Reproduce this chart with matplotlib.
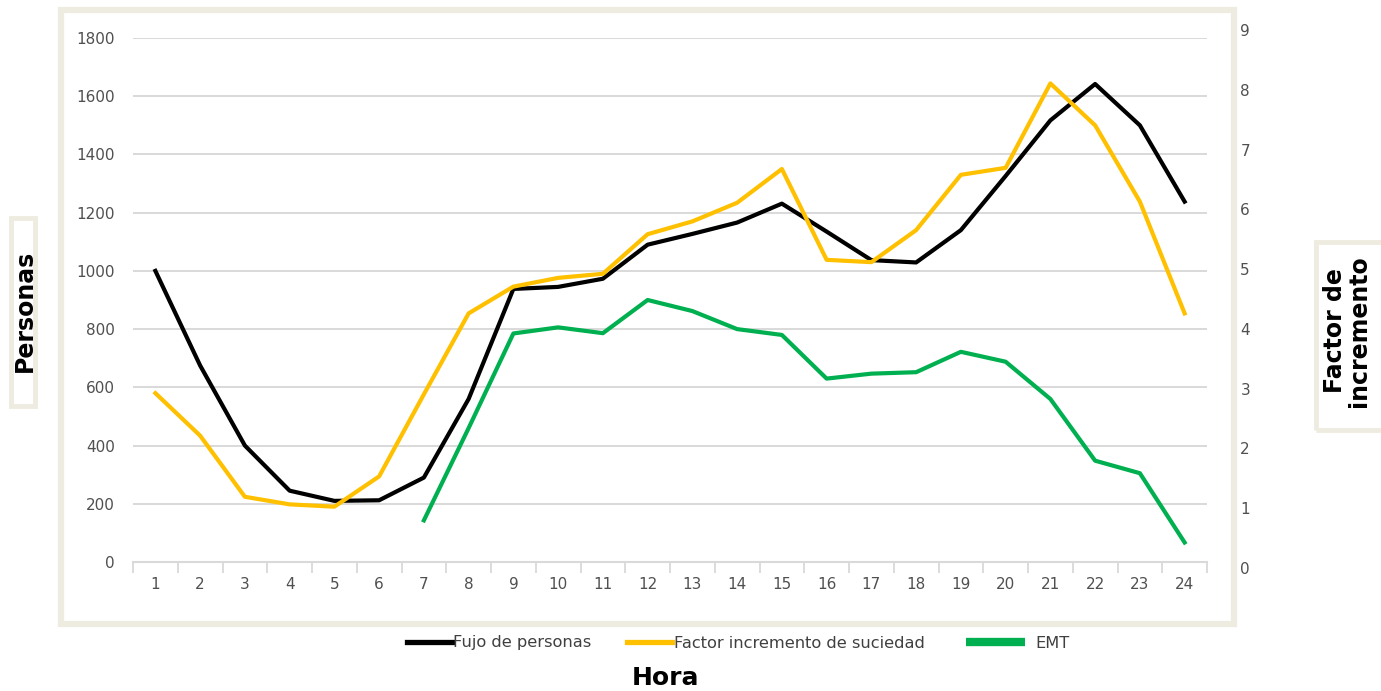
import matplotlib

matplotlib.use("Agg")
import numpy as np
import matplotlib.pyplot as plt
from matplotlib.lines import Line2D
from matplotlib.patches import Rectangle

hours = list(range(1, 25))
flujo_personas = [1000, 675, 400, 245, 210, 212, 290, 560, 938, 945, 973, 1090,
                  1127, 1166, 1231, 1135, 1037, 1029, 1140, 1326, 1517, 1642, 1500, 1238]
factor_suciedad = [2.90, 2.17, 1.12, 0.99, 0.95, 1.47, 2.88, 4.27, 4.73, 4.88, 4.95, 5.63,
                   5.85, 6.17, 6.75, 5.19, 5.15, 5.70, 6.65, 6.77, 8.22, 7.50, 6.19, 4.27]
emt = [np.nan, np.nan, np.nan, np.nan, np.nan, np.nan, 143, 460, 785, 806, 786, 900,
       862, 800, 780, 630, 647, 652, 722, 688, 560, 348, 305, 67]
left_ticks = [0, 200, 400, 600, 800, 1000, 1200, 1400, 1600, 1800]
right_ticks = [0, 1, 2, 3, 4, 5, 6, 7, 8, 9]
series_labels = ["Fujo de personas", "Factor incremento de suciedad", "EMT"]

W, H = 1381, 691
BEIGE = "#EEEBE0"
GRID = "#D9D9D9"
TICK_COLOR = "#505050"
BLACK, YELLOW, GREEN = "#000000", "#FFC000", "#00B050"

fig = plt.figure(figsize=(W / 100, H / 100), dpi=100)
fig.patch.set_facecolor("white")

left, right, bottom, top = 133 / W, 1207 / W, 1 - 562 / H, 1 - 38 / H
ax = fig.add_axes([left, bottom, right - left, top - bottom])

# right-hand tick labels sit a little off the gridlines in the original
ax_lab = fig.add_axes([left, 1 - 568 / H, right - left, 538 / H])
ax_lab.set_ylim(0, 9)
ax_lab.set_yticks(right_ticks)
ax_lab.yaxis.tick_right()
ax_lab.tick_params(axis="y", length=0, pad=24, labelsize=11, labelcolor=TICK_COLOR)
ax_lab.set_xticks([])
ax_lab.patch.set_visible(False)
for spine in ax_lab.spines.values():
    spine.set_visible(False)

ax.set_xlim(0.5, 24.5)
ax.set_ylim(0, 1800)
ax.set_yticks(left_ticks)
ax.set_xticks(hours)
ax.set_xticks(np.arange(0.5, 25, 1), minor=True)
ax.tick_params(axis="x", which="major", length=0, pad=11, labelsize=11, labelcolor=TICK_COLOR)
ax.tick_params(axis="x", which="minor", length=8, width=1.3, color=GRID)
ax.tick_params(axis="y", length=0, pad=13, labelsize=11, labelcolor=TICK_COLOR)
ax.grid(axis="y", color=GRID, lw=1.4)
ax.set_axisbelow(True)
for name, spine in ax.spines.items():
    spine.set_visible(name == "bottom")
ax.spines["bottom"].set_color(GRID)
ax.spines["bottom"].set_linewidth(1.5)

ax2 = ax.twinx()
ax2.set_ylim(0, 9)
ax2.set_yticks([])
for spine in ax2.spines.values():
    spine.set_visible(False)

ax.plot(hours, flujo_personas, color=BLACK, lw=3, solid_joinstyle="round", zorder=3)
ax.plot(hours, emt, color=GREEN, lw=3, solid_joinstyle="round", zorder=3)
ax2.plot(hours, factor_suciedad, color=YELLOW, lw=3, solid_joinstyle="round", zorder=3)

legend_y = 1 - 643 / H
legend_kw = dict(loc="center left", frameon=False, borderpad=0, borderaxespad=0,
                 fontsize=11.7, labelcolor="#404040")
lines_legend = fig.legend(
    [Line2D([], [], color=BLACK, lw=3.8), Line2D([], [], color=YELLOW, lw=3.8)],
    series_labels[:2], bbox_to_anchor=(407 / W, legend_y), ncol=2,
    handlelength=2.75, handletextpad=0.1, columnspacing=2.2, **legend_kw)
fig.legend([Line2D([], [], color=GREEN, lw=6, solid_capstyle="butt")], series_labels[2:],
           bbox_to_anchor=(966 / W, legend_y), handlelength=3.6, handletextpad=0.65,
           **legend_kw)

# beige frames
fig.patches.append(Rectangle((61 / W, 1 - 624 / H), (1234 - 61) / W, (624 - 10) / H,
                             transform=fig.transFigure, fill=False, ec=BEIGE, lw=4.5))
fig.patches.append(Rectangle((10.5 / W, 1 - 406 / H), 24 / W, (406 - 218) / H,
                             transform=fig.transFigure, fill=False, ec=BEIGE, lw=3.5))
fig.patches.append(Rectangle((1316 / W, 1 - 430 / H), 80 / W, (430 - 242) / H,
                             transform=fig.transFigure, fill=False, ec=BEIGE, lw=3.5))

fig.text(25 / W, 1 - 311 / H, "Personas", rotation=90, fontsize=17, fontweight="bold",
         ha="center", va="center")
fig.text(1347 / W, 1 - 331 / H, "Factor de\nincremento", rotation=90, fontsize=17,
         fontweight="bold", ha="center", va="center", multialignment="center", linespacing=0.95)
fig.text(666 / W, 1 - 678 / H, "Hora", fontsize=18, fontweight="bold", ha="center", va="center")

fig.savefig("out.png", dpi=100)
